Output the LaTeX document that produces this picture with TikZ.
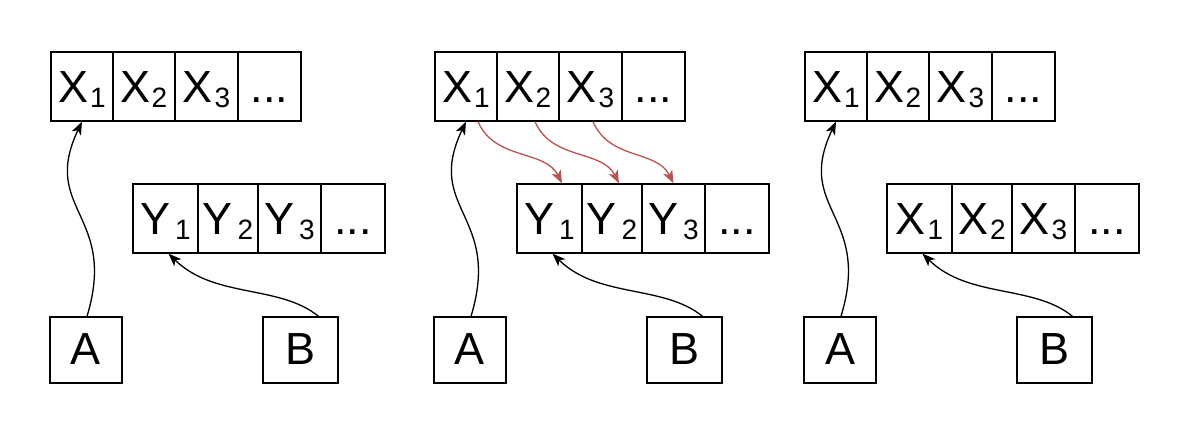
\documentclass[tikz,border=0pt]{standalone}
\usepackage{fontspec}
\setmainfont{Liberation Sans}
\usetikzlibrary{arrows.meta}
\definecolor{redline}{HTML}{B85450}
\newcommand\idx[1]{\raisebox{-5pt}{\fontsize{28}{28}\selectfont #1}}
\tikzset{
  cell/.style={draw, line width=1.3pt, rectangle, inner sep=0pt, minimum height=69pt,
    text height=32pt, text depth=0pt, font=\fontsize{45}{45}\selectfont},
  letterbox/.style={draw, line width=1.3pt, rectangle, inner sep=0pt, minimum height=66pt,
    text height=29pt, text depth=0pt, font=\fontsize{45}{45}\selectfont},
  conn/.style={line width=1.3pt, -{Stealth[length=13pt,width=10pt,inset=3.5pt]}},
  redconn/.style={conn, draw=redline},
}
% #1 prefix, #2 x offset, #3 lower-row letter, #4 kern after lower letter
\newcommand\drawpanel[4]{%
  \node[cell, minimum width=62pt] (#1x1) at ({#2+82},86.5) {X\kern2pt\idx{1}};
  \node[cell, minimum width=62pt] (#1x2) at ({#2+144},86.5) {X\kern1pt\idx{2}};
  \node[cell, minimum width=63pt] (#1x3) at ({#2+206.5},86.5) {X\kern2pt\idx{3}};
  \node[cell, minimum width=63pt] (#1x4) at ({#2+269.5},86.5) {...};
  \node[cell, minimum width=65pt] (#1y1) at ({#2+165.5},218.5) {#3\kern#4\idx{1}};
  \node[cell, minimum width=60pt] (#1y2) at ({#2+228},218.5) {#3\kern#4\idx{2}};
  \node[cell, minimum width=63pt] (#1y3) at ({#2+289.5},218.5) {#3\kern#4\idx{3}};
  \node[cell, minimum width=64pt] (#1y4) at ({#2+353},218.5) {...};
  \node[letterbox, minimum width=72pt] (#1a) at ({#2+86},350) {A};
  \node[letterbox, minimum width=75pt] (#1b) at ({#2+300.5},350) {B};
  \draw[conn] ([xshift=1pt]#1a.north) .. controls +(31,-102) and +(-42,88) .. (#1x1.south);
  \draw[conn] ([xshift=18pt]#1b.north) .. controls +(-39,-32) and +(46,45) .. ([xshift=3pt]#1y1.south);
}
\begin{document}
\begin{tikzpicture}[x=1pt,y=-1pt]
\useasboundingbox (0,0) rectangle (1200,437);
\drawpanel{p}{0}{Y}{5pt}
\drawpanel{q}{384}{Y}{5pt}
\drawpanel{r}{754}{X}{2pt}
\draw[redconn] ([xshift=12pt]qx1.south) .. controls +(17,39) and +(-17,-34) .. ([xshift=12.5pt]qy1.north);
\draw[redconn] ([xshift=7pt]qx2.south) .. controls +(17,39) and +(-17,-34) .. ([xshift=7pt]qy2.north);
\draw[redconn] ([xshift=2.5pt]qx3.south) .. controls +(17,39) and +(-17,-34) .. (qy3.north);
\end{tikzpicture}
\end{document}
